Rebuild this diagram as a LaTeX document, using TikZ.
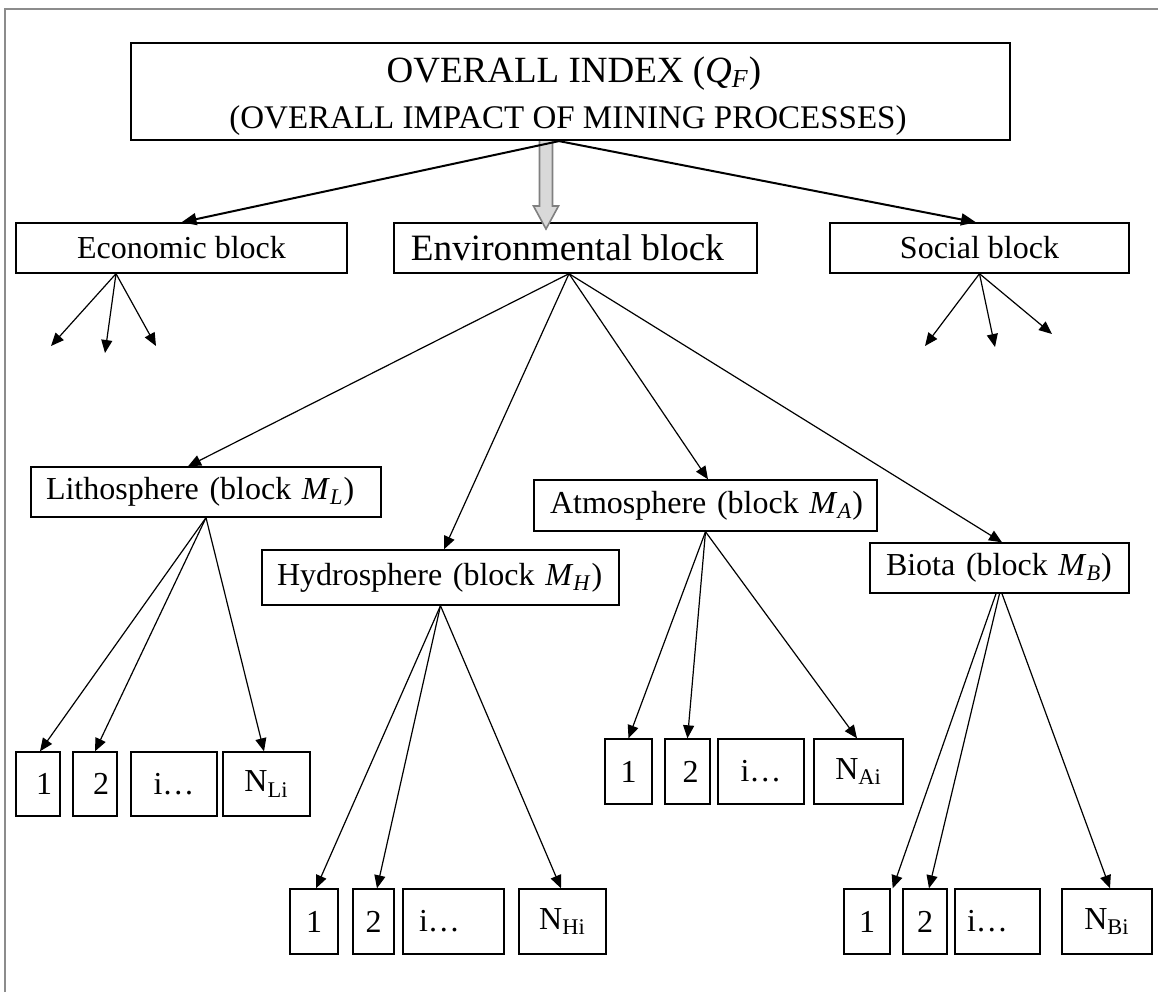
\documentclass[tikz,border=0pt]{standalone}
\usepackage{fontspec}
\setmainfont{Liberation Serif}
\usetikzlibrary{arrows.meta}
\begin{document}
\begin{tikzpicture}[x=0.5pt,y=-0.5pt,
  box/.style={draw,line width=0.7pt,rectangle,inner sep=0pt,font=\fontsize{16}{19}\selectfont},
  bigbox/.style={box,line width=1.1pt},
  subbox/.style={box,inner xsep=1pt,align=left},
  leaf/.style={box,minimum height=32.5pt},
  arr/.style={-{Triangle[length=6.5pt,width=5.5pt]},line width=0.6pt},
  toparr/.style={-{Triangle[length=7.5pt,width=6pt]},line width=1pt},
  frame/.style={draw=black!45,line width=1pt}
]
\useasboundingbox (0,0) rectangle (1158,992);
\draw[frame] (5,992) -- (5,9) -- (1158,9);

% top box
\node[bigbox,minimum width=439.5pt,minimum height=48.5pt] (top) at (570.5,91.5) {};
\node[anchor=base,font=\fontsize{18.5}{22}\selectfont] (t1) at (574,82)
  {OVERALL INDEX (\textit{Q}\textsubscript{\textit{F}})};
\node[anchor=base,font=\fontsize{16.5}{20}\selectfont] (t2) at (568,128)
  {(OVERALL IMPACT OF MINING PROCESSES)};

% second level
\node[box,minimum width=165.5pt,minimum height=25pt] (econ) at (181.5,248) {Economic block};
\node[box,minimum width=181.5pt,minimum height=25pt,font=\fontsize{18.6}{22}\selectfont] (env) at (575.5,248) {\hspace*{-8pt}Environmental block};
\node[box,minimum width=149.5pt,minimum height=25pt] (soc) at (979.5,248) {Social block};

% gray block arrow
\draw[draw=black!50,fill=black!15,line width=0.8pt]
  (539.5,141) -- (539.5,206) -- (533.5,206) -- (546,229) -- (558.5,206) -- (552.5,206) -- (552.5,141);

% third level
\node[subbox,minimum height=25pt,text width=173pt] (lit) at (206,492) {\hspace*{6.5pt}Lithosphere (block \textit{M}\textsubscript{\textit{L}})};
\node[subbox,minimum height=27.5pt,text width=176.5pt] (hyd) at (440.5,577.5) {\hspace*{6.5pt}Hydrosphere (block \textit{M}\textsubscript{\textit{H}})};
\node[subbox,minimum height=25.5pt,text width=169.5pt] (atm) at (705.5,505.5) {\hspace*{7pt}Atmosphere (block \textit{M}\textsubscript{\textit{A}})};
\node[subbox,minimum height=25pt,text width=127.5pt] (bio) at (999.5,568) {\hspace*{7pt}Biota (block \textit{M}\textsubscript{\textit{B}})};

% leaves: lithosphere
\node[leaf,minimum width=22pt,minimum height=32pt] (L1) at (38,784) {\hspace*{6pt}1};
\node[leaf,minimum width=22pt,minimum height=32pt] (L2) at (95,784) {\hspace*{6pt}2};
\node[leaf,minimum width=43pt,minimum height=32pt] (Li) at (174,784) {i\ldots};
\node[leaf,minimum width=43.5pt,minimum height=32pt] (LN) at (266.5,784) {N\textsubscript{Li}};
% leaves: atmosphere
\node[leaf,minimum width=23.5pt] (A1) at (628.5,771.5) {1};
\node[leaf,minimum width=22.5pt] (A2) at (687.5,771.5) {\hspace*{3pt}2};
\node[leaf,minimum width=43pt] (Ai) at (761,771.5) {i\ldots};
\node[leaf,minimum width=44.5pt] (AN) at (858.5,771.5) {N\textsubscript{Ai}};
% leaves: hydrosphere
\node[leaf,minimum width=24pt] (H1) at (314,921.5) {1};
\node[leaf,minimum width=20.5pt] (H2) at (373.5,921.5) {2};
\node[leaf,minimum width=50.5pt] (Hi) at (453.5,921.5) {\hspace*{-14pt}i\ldots};
\node[leaf,minimum width=43.5pt] (HN) at (562.5,921.5) {N\textsubscript{Hi}};
% leaves: biota
\node[leaf,minimum width=23pt] (B1) at (867,921.5) {1};
\node[leaf,minimum width=22pt] (B2) at (925,921.5) {2};
\node[leaf,minimum width=42.5pt] (Bi) at (997.5,921.5) {\hspace*{-10pt}i\ldots};
\node[leaf,minimum width=45pt] (BN) at (1107,921.5) {N\textsubscript{Bi}};

% free ends
\coordinate (e1) at (51,346);
\coordinate (e2) at (105,353);
\coordinate (e3) at (156,346);
\coordinate (s1) at (925,346);
\coordinate (s2) at (995,347);
\coordinate (s3) at (1052,334);

% top connectors
\coordinate (topapex) at ([xshift=-5.75pt]top.south);
\draw[toparr] (topapex) -- (econ.north);
\draw[toparr] (topapex) -- ([xshift=-1.75pt]soc.north);

% economic / social stubs
\coordinate (ecapex) at ([xshift=-32.75pt]econ.south);
\draw[arr] (ecapex) -- (e1);
\draw[arr] (ecapex) -- (e2);
\draw[arr] (ecapex) -- (e3);
\draw[arr] (soc.south) -- (s1);
\draw[arr] (soc.south) -- (s2);
\draw[arr] (soc.south) -- (s3);

% environmental
\coordinate (envapex) at ([xshift=-3.25pt]env.south);
\draw[arr] (envapex) -- ([xshift=-9pt]lit.north);
\draw[arr] (envapex) -- ([xshift=1.75pt]hyd.north);
\draw[arr] (envapex) -- ([xshift=1.25pt]atm.north);
\draw[arr] (envapex) -- ([xshift=1.25pt]bio.north);

% lithosphere leaves
\draw[arr] (lit.south) -- ([xshift=1pt]L1.north);
\draw[arr] (lit.south) -- (L2.north);
\draw[arr] (lit.south) -- ([xshift=-1.25pt]LN.north);
% atmosphere leaves
\draw[arr] (atm.south) -- (A1.north);
\draw[arr] (atm.south) -- (A2.north);
\draw[arr] (atm.south) -- ([xshift=-0.75pt]AN.north);
% hydrosphere leaves
\draw[arr] (hyd.south) -- ([xshift=1pt]H1.north);
\draw[arr] (hyd.south) -- ([xshift=1.75pt]H2.north);
\draw[arr] (hyd.south) -- ([xshift=-0.75pt]HN.north);
% biota leaves
\draw[arr] ([xshift=-1.75pt]bio.south) -- ([xshift=1pt]B1.north east);
\draw[arr] (bio.south) -- ([xshift=2pt]B2.north);
\draw[arr] ([xshift=1.25pt]bio.south) -- ([xshift=1.5pt]BN.north);
\end{tikzpicture}
\end{document}
